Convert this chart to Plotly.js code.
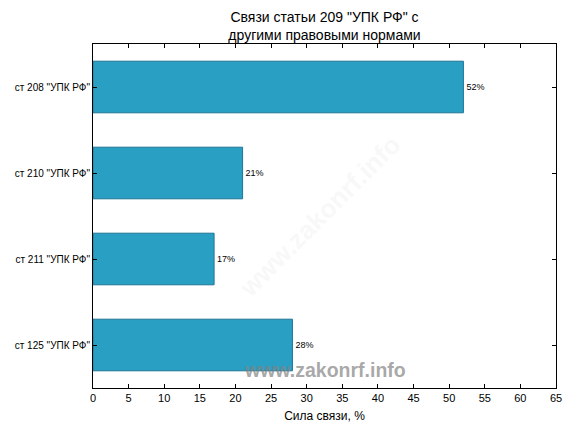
<!DOCTYPE html>
<html><head><meta charset="utf-8">
<script src="https://cdn.plot.ly/plotly-3.0.1.min.js"></script>
<style>body{margin:0}#c{width:576px;height:432px}</style>
</head><body><div id="c"></div>
<script>
var categories = ['ст 208 "УПК РФ"', 'ст 210 "УПК РФ"', 'ст 211 "УПК РФ"', 'ст 125 "УПК РФ"'];
var values = [52, 21, 17, 28];
var labels = ['52%', '21%', '17%', '28%'];
var xTicks = [0,5,10,15,20,25,30,35,40,45,50,55,60,65];

var trace = {
  type: 'bar', orientation: 'h',
  x: values, y: categories,
  text: labels, textposition: 'outside', cliponaxis: false,
  textfont: {family: 'Liberation Sans, Arial, sans-serif', size: 9, color: '#000'},
  marker: {color: '#2a9fc4', line: {color: '#1d7595', width: 1}},
  width: 0.6, hoverinfo: 'none'
};
var layout = {
  width: 576, height: 432,
  margin: {l: 93, r: 20, t: 44, b: 44},
  paper_bgcolor: '#fff', plot_bgcolor: '#fff',
  font: {family: 'Liberation Sans, Arial, sans-serif', color: '#000'},
  title: {text: 'Связи статьи 209 "УПК РФ" с<br>другими правовыми нормами', x: 0.5, xref: 'paper', yref: 'container', y: 0.949, yanchor: 'top', font: {size: 14}},
  showlegend: false,
  xaxis: {range: [0, 65], tickvals: xTicks, ticktext: xTicks.map(String), ticks: 'inside', ticklen: 4, tickcolor: '#000',
    showline: true, linecolor: '#000', linewidth: 1, mirror: 'ticks', showgrid: false, zeroline: false,
    tickfont: {size: 11}, title: {text: 'Сила связи, %', font: {size: 12}, standoff: 8}},
  yaxis: {type: 'category', range: [3.5, -0.5], ticks: 'inside', ticklen: 4, tickcolor: '#000',
    showline: true, linecolor: '#000', linewidth: 1, mirror: 'ticks', showgrid: false, zeroline: false,
    tickfont: {size: 10}},
  annotations: [
    {text: '<b>www.zakonrf.info</b>', xref: 'paper', yref: 'paper', x: 0.5, y: 0.015, showarrow: false,
     font: {size: 19.5, color: 'rgba(130,130,130,0.7)', family: 'Liberation Sans, Arial, sans-serif'}},
    {text: '<b>www.zakonrf.info</b>', xref: 'paper', yref: 'paper', x: 0.49, y: 0.50, showarrow: false, textangle: -45,
     font: {size: 26, color: 'rgba(200,200,200,0.15)', family: 'Liberation Sans, Arial, sans-serif'}}
  ]
};
Plotly.newPlot('c', [trace], layout, {staticPlot: true, displayModeBar: false});
</script></body></html>
